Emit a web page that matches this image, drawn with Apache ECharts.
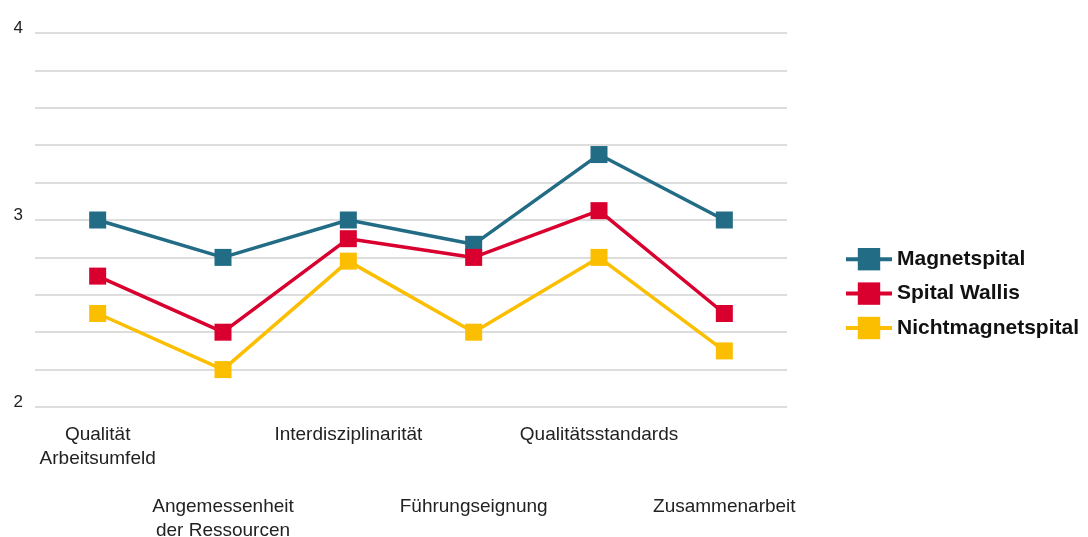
<!DOCTYPE html>
<html>
<head>
<meta charset="utf-8">
<script src="https://cdn.jsdelivr.net/npm/echarts@6/dist/echarts.min.js"></script>
<style>
  html, body { margin: 0; padding: 0; background: #fff; }
  #chart { width: 1088px; height: 537px; }
</style>
</head>
<body>
<div id="chart"></div>
<script>
// Kategorien (x-Achse)
const categories = [
  'Qualität\nArbeitsumfeld',
  'Angemessenheit\nder Ressourcen',
  'Interdisziplinarität',
  'Führungseignung',
  'Qualitätsstandards',
  'Zusammenarbeit'
]
// Werte je Serie
const magnetspital = [3.0, 2.8, 3.0, 2.87, 3.35, 3.0]
const spitalWallis = [2.7, 2.4, 2.9, 2.8, 3.05, 2.5]
const nichtmagnetspital = [2.5, 2.2, 2.78, 2.4, 2.8, 2.3]
// beschriftete y-Ticks
const yTickLabels = [2, 3, 4]

const labelFont = '"Liberation Sans", Arial, sans-serif'
const legendFont = '"Liberation Sans", Arial, sans-serif'

const chart = echarts.init(document.getElementById('chart'))

function lineSeries (name, color, data) {
  return {
    name: name,
    type: 'line',
    data: data,
    symbol: 'rect',
    symbolSize: 17,
    lineStyle: { color: color, width: 3.5 },
    itemStyle: { color: color },
    emphasis: { disabled: true }
  }
}

chart.setOption({
  backgroundColor: '#fff',
  animation: false,
  grid: {
    left: 35,
    right: 301,
    top: 33,
    bottom: 130,
    outerBoundsMode: 'none',
    containLabel: false
  },
  legend: {
    orient: 'vertical',
    left: 839,
    top: 243,
    itemWidth: 46,
    itemHeight: 28,
    itemGap: 12,
    lineStyle: { width: 4 },
    textStyle: {
      fontFamily: legendFont,
      fontWeight: 'bold',
      fontSize: 21,
      color: '#111'
    },
    data: ['Magnetspital', 'Spital Wallis', 'Nichtmagnetspital']
  },
  xAxis: {
    type: 'category',
    boundaryGap: true,
    data: categories,
    axisLine: { show: false },
    axisTick: { show: false },
    axisLabel: {
      interval: 0,
      margin: 16,
      fontFamily: labelFont,
      fontSize: 19,
      lineHeight: 24,
      color: '#222',
      verticalAlign: 'top',
      formatter (value, index) {
        return index % 2 ? '\n\n\n' + value : value
      }
    }
  },
  yAxis: {
    type: 'value',
    min: 2,
    max: 4,
    interval: 0.2,
    axisLine: { show: false },
    axisTick: { show: false },
    splitLine: {
      lineStyle: { color: '#d2d2d2', width: 1.5 }
    },
    axisLabel: {
      margin: 12,
      fontFamily: legendFont,
      fontSize: 17,
      lineHeight: 10,
      color: '#222',
      verticalAlign: 'bottom',
      formatter (v) {
        const r = Math.round(v * 10) / 10
        return yTickLabels.indexOf(r) >= 0 ? String(r) : ''
      }
    }
  },
  series: [
    lineSeries('Magnetspital', '#226c86', magnetspital),
    lineSeries('Spital Wallis', '#d9002f', spitalWallis),
    lineSeries('Nichtmagnetspital', '#fbbe00', nichtmagnetspital)
  ]
})
</script>
</body>
</html>
